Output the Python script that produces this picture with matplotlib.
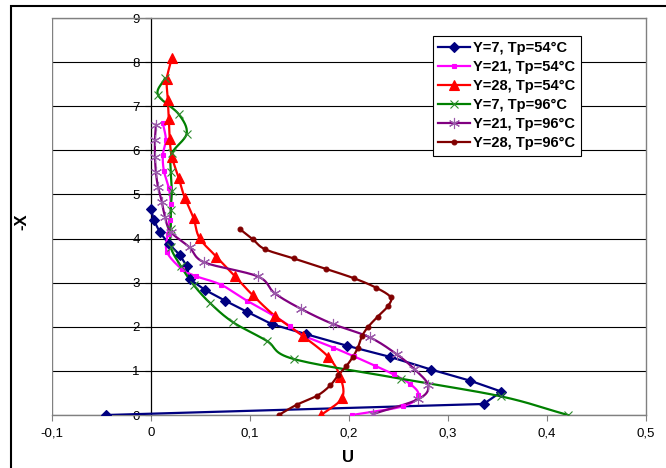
import numpy as np
import matplotlib
matplotlib.use("Agg")
import matplotlib.pyplot as plt
from matplotlib.patches import Rectangle

plt.rcParams['font.family'] = ['Liberation Sans', 'DejaVu Sans']

# =======================
# Datos (U, -X) por serie
# =======================
u_y7_54 = [-0.045, 0.336, 0.354, 0.322, 0.283, 0.241, 0.198, 0.157, 0.122, 0.097,
           0.075, 0.055, 0.039, 0.036, 0.029, 0.018, 0.009, 0.003, 0.0]
x_y7_54 = [0.0, 0.25, 0.53, 0.78, 1.03, 1.32, 1.57, 1.83, 2.06, 2.34,
           2.59, 2.83, 3.08, 3.38, 3.63, 3.88, 4.14, 4.41, 4.67]

u_y21_54 = [0.203, 0.255, 0.270, 0.262, 0.245, 0.226, 0.205, 0.184, 0.154, 0.140,
            0.124, 0.097, 0.071, 0.045, 0.031, 0.016, 0.017, 0.019, 0.020, 0.018,
            0.013, 0.012, 0.015, 0.012]
x_y21_54 = [0.0, 0.20, 0.45, 0.70, 0.92, 1.12, 1.33, 1.53, 1.80, 2.02,
            2.25, 2.59, 2.95, 3.15, 3.31, 3.70, 4.10, 4.42, 4.78, 5.14,
            5.54, 5.90, 6.24, 6.61]

u_y28_54 = [0.172, 0.193, 0.191, 0.179, 0.154, 0.125, 0.103, 0.085, 0.066, 0.049,
            0.043, 0.034, 0.028, 0.021, 0.019, 0.018, 0.017, 0.016, 0.021]
x_y28_54 = [0.0, 0.39, 0.87, 1.32, 1.78, 2.25, 2.71, 3.14, 3.59, 4.01,
            4.46, 4.93, 5.37, 5.86, 6.25, 6.70, 7.14, 7.61, 8.09]

u_y7_96 = [0.421, 0.354, 0.253, 0.144, 0.117, 0.083, 0.060, 0.043, 0.030, 0.020,
           0.020, 0.020, 0.021, 0.020, 0.021, 0.036, 0.028, 0.007, 0.014]
x_y7_96 = [0.0, 0.42, 0.82, 1.27, 1.68, 2.10, 2.53, 2.95, 3.38, 3.80,
           4.22, 4.64, 5.07, 5.50, 5.93, 6.38, 6.82, 7.26, 7.63]

u_y21_96 = [0.224, 0.270, 0.280, 0.266, 0.248, 0.221, 0.184, 0.152, 0.125, 0.108,
            0.054, 0.039, 0.020, 0.014, 0.011, 0.007, 0.005, 0.004, 0.004, 0.005]
x_y21_96 = [0.02, 0.36, 0.67, 1.04, 1.38, 1.76, 2.06, 2.40, 2.76, 3.14,
            3.46, 3.80, 4.15, 4.50, 4.83, 5.18, 5.50, 5.86, 6.24, 6.58]

u_y28_96 = [0.129, 0.147, 0.168, 0.181, 0.189, 0.197, 0.204, 0.209, 0.213, 0.219,
            0.229, 0.239, 0.242, 0.227, 0.205, 0.177, 0.144, 0.115, 0.103, 0.090]
x_y28_96 = [0.0, 0.23, 0.44, 0.67, 0.90, 1.10, 1.32, 1.53, 1.78, 1.99,
            2.23, 2.46, 2.67, 2.89, 3.10, 3.31, 3.55, 3.76, 3.98, 4.21]

etiquetas = ["Y=7, Tp=54°C", "Y=21, Tp=54°C", "Y=28, Tp=54°C",
             "Y=7, Tp=96°C", "Y=21, Tp=96°C", "Y=28, Tp=96°C"]
xticks = [-0.1, 0, 0.1, 0.2, 0.3, 0.4, 0.5]
xtick_labels = ["-0,1", "0", "0,1", "0,2", "0,3", "0,4", "0,5"]
yticks = list(range(0, 10))


# =======================
# Suavizado tipo Excel (Catmull-Rom)
# =======================
def suavizar(u, x, n=16):
    sx, sy = 990.0, 44.1
    p = np.column_stack([np.array(u) * sx, np.array(x) * sy])
    p = np.vstack([2 * p[0] - p[1], p, 2 * p[-1] - p[-2]])
    t = np.linspace(0, 1, n, endpoint=False)[:, None]
    out = []
    for i in range(1, len(p) - 2):
        p0, p1, p2, p3 = p[i - 1], p[i], p[i + 1], p[i + 2]
        seg = 0.5 * (2 * p1 + (-p0 + p2) * t
                     + (2 * p0 - 5 * p1 + 4 * p2 - p3) * t ** 2
                     + (-p0 + 3 * p1 - 3 * p2 + p3) * t ** 3)
        out.append(seg)
    out.append(p[-2][None, :])
    out = np.vstack(out)
    return out[:, 0] / sx, out[:, 1] / sy


fig = plt.figure(figsize=(6.66, 4.68), dpi=100)
ax = fig.add_axes([52 / 666, 53 / 468, 594 / 666, 397 / 468])

series = [
    (u_y7_54, x_y7_54, '#000080', 'D', 5.5, '#000080', False),
    (u_y21_54, x_y21_54, '#FF00FF', 's', 3.5, '#FF00FF', True),
    (u_y28_54, x_y28_54, '#FF0000', '^', 7.5, '#FF0000', True),
    (u_y7_96, x_y7_96, '#008000', 'x', 6, '#2e8b2e', True),
    (u_y21_96, x_y21_96, '#800080', (6, 2, 0), 8, '#9a5aaa', True),
    (u_y28_96, x_y28_96, '#800000', 'o', 3.5, '#800000', True),
]

handles = []
for (u, x, col, mk, ms, mcol, suave), lab in zip(series, etiquetas):
    if suave:
        us, xs = suavizar(u, x)
    else:
        us, xs = u, x
    ax.plot(us, xs, color=col, lw=1.6, zorder=3)
    ax.plot(u, x, ls='none', marker=mk, ms=ms, color=mcol, mec=mcol,
            mew=0.8, zorder=4)
    h, = ax.plot([], [], color=col, lw=1.6, marker=mk, ms=ms, mfc=mcol,
                 mec=mcol, mew=0.8)
    handles.append(h)

ax.set_xlim(-0.1, 0.5)
ax.set_ylim(0, 9)
ax.set_xticks(xticks)
ax.set_xticklabels(xtick_labels)
ax.set_yticks(yticks)

# Rejilla y ejes
ax.set_axisbelow(True)
ax.yaxis.grid(True, color='black', lw=0.8)
for s in ['top', 'right', 'bottom']:
    ax.spines[s].set_color('#808080')
    ax.spines[s].set_linewidth(1.0)
ax.spines['left'].set_position(('data', 0))
ax.spines['left'].set_color('black')
ax.spines['left'].set_linewidth(0.9)
ax.axvline(-0.1, color='#808080', lw=1.0, zorder=1)

ax.tick_params(axis='x', direction='out', length=4, color='#808080',
               labelsize=9.5, pad=5)
ax.tick_params(axis='y', direction='out', length=4, color='black',
               labelsize=9.5, pad=4)

fig.text(348 / 666, 1 - 458 / 468, "U", ha='center', va='center',
         fontsize=12, fontweight='bold')
fig.text(22 / 666, 1 - 222 / 468, "-X", ha='center', va='center',
         fontsize=12, fontweight='bold', rotation=90)

leg = ax.legend(handles, etiquetas, loc='upper right',
                bbox_to_anchor=(0.89, 0.955), borderaxespad=0,
                prop={'weight': 'bold', 'size': 10.5}, frameon=True,
                fancybox=False, framealpha=1, edgecolor='black',
                handlelength=2.2, handletextpad=0.2, labelspacing=0.35,
                borderpad=0.35)
leg.get_frame().set_linewidth(0.8)
leg.set_zorder(10)

# Marco exterior del gráfico
fig.add_artist(Rectangle((11 / 666, -0.1), 1.2, (462 / 468) + 0.1,
                         transform=fig.transFigure, fill=False,
                         lw=1.5, ec='black'))

fig.savefig("out.png", dpi=100)
